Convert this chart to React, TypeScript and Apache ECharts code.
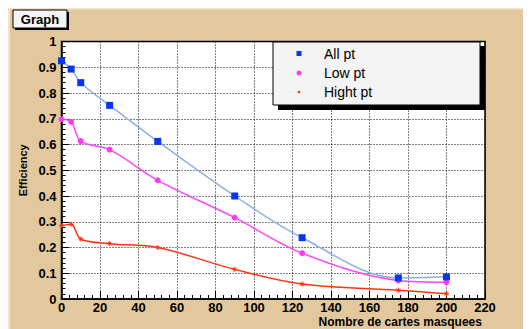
import React, { useEffect, useRef } from "react";
import * as echarts from "echarts";

const xValues = [0, 5, 10, 25, 50, 90, 125, 175, 200];
const allPt = [0.925, 0.893, 0.84, 0.752, 0.612, 0.4, 0.238, 0.082, 0.086];
const lowPt = [0.698, 0.688, 0.613, 0.58, 0.461, 0.316, 0.178, 0.072, 0.065];
const hightPt = [0.284, 0.29, 0.233, 0.215, 0.2, 0.115, 0.058, 0.034, 0.02];
const seriesNames = ["All pt", "Low pt", "Hight pt"];
const xTitle = "Nombre de cartes masquees";
const yTitle = "Efficiency";
const frameTitle = "Graph";

const STAR =
  "path://M5,0 L5,10 M0,5 L10,5 M1.5,1.5 L8.5,8.5 M8.5,1.5 L1.5,8.5";

export default function App() {
  const ref = useRef<HTMLDivElement>(null);
  useEffect(() => {
    if (!ref.current) return;
    const chart = echarts.init(ref.current, undefined, { renderer: "svg" });
    const pair = (ys: number[]) => xValues.map((x, i) => [x, ys[i]]);
    const font = "Liberation Sans, Arial, Helvetica, sans-serif";
    const gl = 53.5, gt = 33.5, gw = 423.5, gh = 257.5;
    chart.setOption({
      animation: false,
      backgroundColor: "#e3c89e",
      textStyle: { fontFamily: font },
      grid: {
        left: gl, top: gt, width: gw, height: gh,
        outerBoundsMode: "none",
        containLabel: false,
        show: true, backgroundColor: "#ffffff", borderColor: "#000", borderWidth: 1.5,
      },
      xAxis: {
        type: "value", min: 0, max: 220, interval: 20,
        axisLine: { show: true, onZero: false, lineStyle: { color: "#000", width: 1.5 } },
        axisTick: { show: true, inside: true, length: 8, lineStyle: { color: "#000" } },
        minorTick: { show: true, splitNumber: 5, length: 4, lineStyle: { color: "#000" } },
        splitLine: { show: true, lineStyle: { color: "#000", type: [1, 2], width: 1 } },
        axisLabel: { color: "#000", fontWeight: "bold", fontSize: 13, margin: 2, fontFamily: font },
        name: xTitle,
        nameLocation: "middle",
        nameMoveOverlap: false,
        nameGap: 17,
        nameTextStyle: {
          color: "#000", fontWeight: "bold", fontSize: 12, fontFamily: font,
          padding: [0, 0, 0, 254],
        },
      },
      yAxis: {
        type: "value", min: 0, max: 1, interval: 0.1,
        axisLine: { show: true, onZero: false, lineStyle: { color: "#000", width: 1.5 } },
        axisTick: { show: true, inside: true, length: 8, lineStyle: { color: "#000" } },
        minorTick: { show: true, splitNumber: 5, length: 4, lineStyle: { color: "#000" } },
        splitLine: { show: true, lineStyle: { color: "#000", type: [1, 2], width: 1 } },
        axisLabel: { color: "#000", fontWeight: "bold", fontSize: 13, margin: 5, fontFamily: font },
        name: yTitle,
        nameLocation: "middle",
        nameMoveOverlap: false,
        nameGap: 33,
        nameTextStyle: { color: "#000", fontWeight: "bold", fontSize: 11, fontFamily: font },
      },
      series: [
        {
          name: seriesNames[0], type: "line", data: pair(allPt), smooth: 0.35,
          symbol: "rect", symbolSize: 7,
          itemStyle: { color: "#0b35f5" },
          lineStyle: { color: "#8eb0e4", width: 1.5 },
          z: 3,
        },
        {
          name: seriesNames[1], type: "line", data: pair(lowPt), smooth: 0.35,
          symbol: "circle", symbolSize: 6,
          itemStyle: { color: "#ff3cf5" },
          lineStyle: { color: "#ff44ff", width: 1.5 },
          z: 2,
        },
        {
          name: seriesNames[2], type: "line", data: pair(hightPt), smooth: 0.35,
          symbol: STAR, symbolSize: 5,
          itemStyle: { color: "#ff3311", borderColor: "#ff3311", borderWidth: 1 },
          lineStyle: { color: "#ff3311", width: 1.5 },
          z: 1,
        },
      ],
      graphic: [
        { type: "rect", shape: { x: 0, y: 0, width: 2, height: 400 }, style: { fill: "#f3e3cb" }, silent: true },
        { type: "rect", shape: { x: 0, y: 0, width: 600, height: 1.5 }, style: { fill: "#f3e3cb" }, silent: true },
        // title box
        { type: "rect", shape: { x: 7, y: 4, width: 54, height: 18 }, style: { fill: "#000" }, silent: true },
        { type: "rect", shape: { x: 5, y: 2, width: 54, height: 18 }, style: { fill: "#f4f4f4", stroke: "#000", lineWidth: 1 }, silent: true },
        {
          type: "text", x: 32, y: 11,
          style: { text: frameTitle, fill: "#000", font: `bold 13px ${font}`, align: "center", verticalAlign: "middle" },
        },
        // legend box
        { type: "rect", shape: { x: 270, y: 38, width: 207, height: 64 }, style: { fill: "#000" }, silent: true, z: 10 },
        { type: "rect", shape: { x: 265, y: 34, width: 207, height: 63 }, style: { fill: "#f4f4f4", stroke: "#000", lineWidth: 1 }, silent: true, z: 11 },
        { type: "rect", shape: { x: 288.5, y: 43, width: 5, height: 5 }, style: { fill: "#0b35f5" }, z: 12 },
        { type: "circle", shape: { cx: 291, cy: 65, r: 2.5 }, style: { fill: "#ff3cf5" }, z: 12 },
        { type: "circle", shape: { cx: 291, cy: 84, r: 1.3 }, style: { fill: "#ff3311" }, z: 12 },
        { type: "text", x: 316, y: 46, style: { text: seriesNames[0], fill: "#000", font: `14px ${font}`, verticalAlign: "middle" }, z: 12 },
        { type: "text", x: 316, y: 65, style: { text: seriesNames[1], fill: "#000", font: `14px ${font}`, verticalAlign: "middle" }, z: 12 },
        { type: "text", x: 316, y: 84, style: { text: seriesNames[2], fill: "#000", font: `14px ${font}`, verticalAlign: "middle" }, z: 12 },
      ],
    });
    return () => chart.dispose();
  }, []);
  return <div ref={ref} style={{ width: 523, height: 321 }} />;
}
